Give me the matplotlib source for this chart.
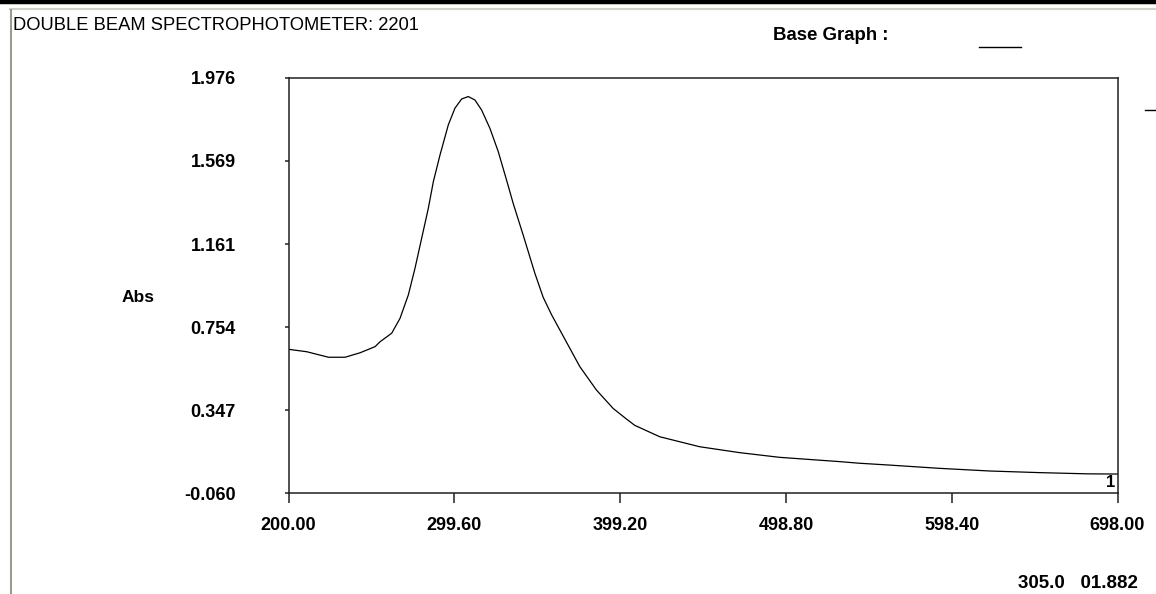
import matplotlib
matplotlib.use("Agg")
import matplotlib.pyplot as plt
from matplotlib.lines import Line2D

# scan
wavelength = [200, 211, 224, 234, 243, 252, 255, 262, 267, 272, 276, 280, 284,
              287, 291, 296, 300, 304, 308, 312, 316, 321, 326, 331, 335, 341,
              348, 353, 358, 363, 368, 375, 385, 395, 403, 408, 423, 447, 471,
              495, 531, 543, 561, 591, 621, 651, 680, 698]
absorbance = [0.645, 0.633, 0.606, 0.606, 0.628, 0.658, 0.682, 0.724, 0.797,
              0.912, 1.043, 1.190, 1.337, 1.467, 1.598, 1.746, 1.828, 1.873,
              1.885, 1.868, 1.819, 1.729, 1.615, 1.475, 1.360, 1.205, 1.018,
              0.900, 0.815, 0.740, 0.665, 0.560, 0.445, 0.355, 0.303, 0.272,
              0.216, 0.167, 0.138, 0.115, 0.094, 0.086, 0.077, 0.061, 0.048,
              0.040, 0.034, 0.033]

x_ticks = [200.00, 299.60, 399.20, 498.80, 598.40, 698.00]
x_labels = ["200.00", "299.60", "399.20", "498.80", "598.40", "698.00"]
y_ticks = [-0.060, 0.347, 0.754, 1.161, 1.569, 1.976]
y_labels = ["-0.060", "0.347", "0.754", "1.161", "1.569", "1.976"]

W, H = 1156, 594
BOLD = dict(family=["Liberation Sans", "DejaVu Sans"], weight="bold")

def fx(px):
    return px / W

def fy(py):
    return 1 - py / H

fig = plt.figure(figsize=(W / 100, H / 100), dpi=100)
fig.patch.set_facecolor("white")

# window frame bits
fig.add_artist(Line2D([0, 1], [fy(2), fy(2)], transform=fig.transFigure,
                      color="black", lw=3.2))
fig.add_artist(Line2D([fx(10), 1], [fy(9), fy(9)], transform=fig.transFigure,
                      color="#d4d0c8", lw=1.5))
fig.add_artist(Line2D([fx(11), fx(11)], [fy(10), 0], transform=fig.transFigure,
                      color="#9c9a8c", lw=1.5))

ax = fig.add_axes([fx(288.5), fy(493), (1117.5 - 288.5) / W, (493 - 78) / H])
ax.plot(wavelength, absorbance, color="black", lw=0.9)

ax.set_xlim(200, 698)
ax.set_ylim(-0.060, 1.976)
ax.set_xticks(x_ticks)
ax.set_xticklabels(x_labels, **BOLD, fontsize=13)
ax.set_yticks(y_ticks)
ax.set_yticklabels(y_labels, **BOLD, fontsize=13)
ax.tick_params(axis="x", direction="out", length=7, width=1.1, pad=10,
               color="#202020")
ax.tick_params(axis="y", direction="out", length=3, width=1.1, pad=35,
               color="#202020")
for s in ax.spines.values():
    s.set_linewidth(1.1)
    s.set_color("#202020")

ax.text(0.997, 0.008, "1", transform=ax.transAxes, ha="right", va="bottom",
        fontsize=12, **BOLD)

fig.text(fx(13), fy(26), "DOUBLE BEAM SPECTROPHOTOMETER: 2201", ha="left",
         va="center", fontsize=13.2, family=["Liberation Sans", "DejaVu Sans"])
fig.text(fx(773), fy(35), "Base Graph :", ha="left", va="center",
         fontsize=13.4, **BOLD)
fig.add_artist(Line2D([fx(979), fx(1021)], [fy(46.5), fy(46.5)],
                      transform=fig.transFigure, color="black", lw=1))
fig.add_artist(Line2D([fx(1145), 1], [fy(110), fy(110)],
                      transform=fig.transFigure, color="black", lw=1))
fig.text(fx(122), fy(297), "Abs", ha="left", va="center", fontsize=12.5, **BOLD)
fig.text(fx(1138), fy(583), "305.0   01.882", ha="right", va="center",
         fontsize=13.5, **BOLD)

fig.savefig("out.png", dpi=100)
